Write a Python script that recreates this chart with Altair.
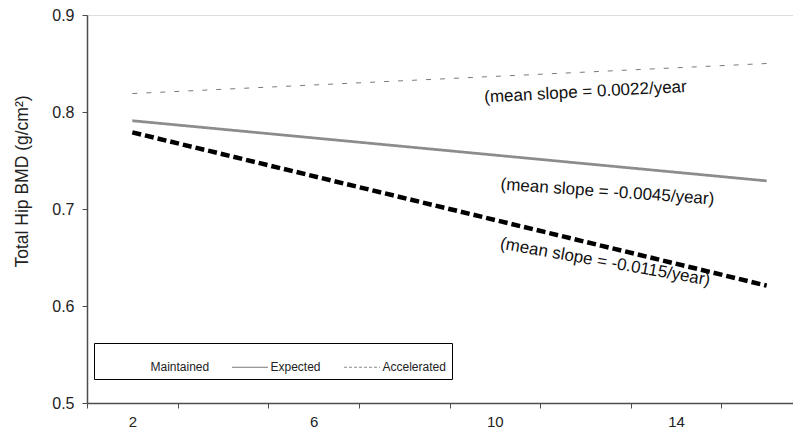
import altair as alt
import pandas as pd

# ---------------- data ----------------
YEARS = [2, 4, 6, 8, 10, 12, 14, 16]
SHOWN_LABELS = [2, 6, 10, 14]
Y_TICKS = [0.5, 0.6, 0.7, 0.8, 0.9]

SERIES = ["Maintained", "Expected", "Accelerated"]
START_YEAR = [2, 2, 2]
END_YEAR = [16, 16, 16]
START_BMD = [0.819, 0.791, 0.779]
END_BMD = [0.850, 0.729, 0.621]

ANNOT_TEXT = [
    "(mean slope = 0.0022/year",
    "(mean slope = -0.0045/year)",
    "(mean slope = -0.0115/year)",
]
ANNOT_YEAR = [12, 12, 12]
ANNOT_BMD = [0.8204, 0.7191, 0.6488]

# ---------------- styles ----------------
LINE_COLORS = ["#7a7a7a", "#8c8c8c", "#000000"]
LINE_WIDTHS = [1, 4.5, 3.5]
LINE_DASHES = [[5, 9], [1, 0], [9, 4]]

LEGEND_COLORS = ["transparent", "#7a7a7a", "#8a8a8a"]
LEGEND_DASHES = [[1, 0], [1, 0], [3, 2]]

ANNOT_ANGLE = [357, 4, 10]
ANNOT_DX = [0, 22, 20]

FONT = "Liberation Sans"

rows = []
for s, y0, y1, b0, b1 in zip(SERIES, START_YEAR, END_YEAR, START_BMD, END_BMD):
    rows.append({"series": s, "year": y0, "bmd": b0})
    rows.append({"series": s, "year": y1, "bmd": b1})
lines_df = pd.DataFrame(rows)

label_expr = "indexof([" + ",".join(str(v) for v in SHOWN_LABELS) + "], datum.value) >= 0 ? datum.label : ''"

x_axis = alt.Axis(
    title=None, grid=False, labelAngle=0, tickBand="extent",
    labelExpr=label_expr, labelFontSize=15, labelFont=FONT, labelColor="#222222",
    labelPadding=6, tickSize=5, tickColor="#4d4d4d", tickWidth=1,
    domainColor="#4d4d4d", domainWidth=1.5,
)
y_axis = alt.Axis(
    title="Total Hip BMD (g/cm²)", values=Y_TICKS, format=".1f", grid=False,
    labelFontSize=16, labelFont=FONT, labelColor="#222222", labelPadding=8,
    tickSize=5, tickColor="#4d4d4d", tickWidth=1,
    domainColor="#4d4d4d", domainWidth=1.5,
    titleFont=FONT, titleFontSize=17.5, titleFontWeight="normal", titleColor="#222222",
    titleAngle=270, titleX=-65, titleY=166, titleBaseline="middle", titleAlign="center",
)


def x_enc():
    return alt.X(
        "year:O",
        scale=alt.Scale(type="band", domain=YEARS, range=[0, 725], paddingInner=0, paddingOuter=0),
        bandPosition=0.5,
        axis=x_axis,
    )


def y_enc():
    return alt.Y("bmd:Q", scale=alt.Scale(domain=[0.5, 0.9], nice=False, zero=False), axis=y_axis)


base = alt.Chart(lines_df)

lines = base.mark_line().encode(
    x=x_enc(),
    y=y_enc(),
    color=alt.Color("series:N", scale=alt.Scale(domain=SERIES, range=LINE_COLORS), legend=None),
    strokeDash=alt.StrokeDash("series:N", scale=alt.Scale(domain=SERIES, range=LINE_DASHES), legend=None),
    strokeWidth=alt.StrokeWidth("series:N", scale=alt.Scale(domain=SERIES, range=LINE_WIDTHS), legend=None),
)

legend = alt.Legend(
    orient="none", legendX=7, legendY=328, direction="horizontal",
    title=" ", titleOrient="left", titlePadding=12, titleFontSize=12,
    strokeColor="#000000", fillColor="#ffffff", padding=5.5, columnPadding=20,
    symbolType="stroke", symbolSize=1296, symbolStrokeWidth=1,
    labelFontSize=12, labelFont=FONT, labelColor="#222222", labelOffset=2,
)

legend_layer = base.transform_filter("false").mark_line().encode(
    x=x_enc(),
    y=y_enc(),
    color=alt.Color("series:N", scale=alt.Scale(domain=SERIES, range=LEGEND_COLORS), legend=legend),
    strokeDash=alt.StrokeDash("series:N", scale=alt.Scale(domain=SERIES, range=LEGEND_DASHES), legend=legend),
)

layers = [lines, legend_layer]
for t, yr, b, ang, dx in zip(ANNOT_TEXT, ANNOT_YEAR, ANNOT_BMD, ANNOT_ANGLE, ANNOT_DX):
    adf = pd.DataFrame({"year": [yr], "bmd": [b], "text": [t]})
    layers.append(
        alt.Chart(adf).mark_text(
            font=FONT, fontSize=17, color="#111111", angle=ang, dx=dx,
            align="center", baseline="middle",
        ).encode(x=x_enc(), y=y_enc(), text="text:N")
    )

chart = (
    alt.layer(*layers)
    .resolve_scale(color="independent", strokeDash="independent")
    .properties(
        width=706, height=388,
        autosize=alt.AutoSizeParams(type="none"),
        padding={"left": 79, "top": 7, "right": 0, "bottom": 30},
    )
    .configure_view(stroke=None)
    .configure(background="#ffffff")
)

chart.save("out.html", embed_options={"renderer": "svg", "actions": False})
